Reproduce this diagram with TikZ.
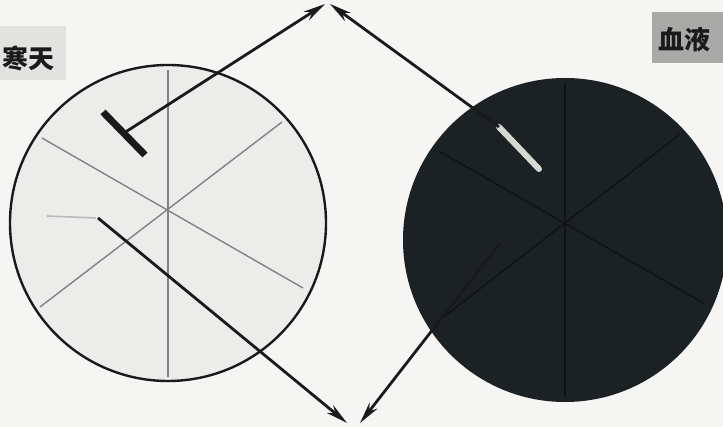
\documentclass[tikz,border=0pt]{standalone}
\usepackage{fontspec}
\newfontfamily\cjk{Noto Sans CJK SC}
\usetikzlibrary{arrows.meta}
\definecolor{bgc}{HTML}{F5F5F3}
\definecolor{agarfill}{HTML}{ECECEB}
\definecolor{bloodfill}{HTML}{1C2224}
\definecolor{bloodline}{HTML}{101416}
\definecolor{boxone}{HTML}{E2E2E0}
\definecolor{boxtwo}{HTML}{A9A9A7}
\definecolor{gridgray}{HTML}{828282}
\definecolor{barwhite}{HTML}{D4DAD2}
\definecolor{ink}{HTML}{1A1A1A}
\tikzset{
  lbl/.style={font=\cjk\bfseries\fontsize{26}{26}\selectfont, text=ink, inner sep=0pt},
  gridln/.style={draw=gridgray, line width=1.4pt},
  darkgrid/.style={draw=bloodline, line width=1.5pt},
  arr/.style={draw=ink, line width=2.8pt, -{Stealth[length=22pt,width=10pt,inset=7pt]}},
  tbar/.style={draw=ink, line width=7pt},
  wbar/.style={draw=barwhite, line width=6pt, line cap=round},
}
\begin{document}
\begin{tikzpicture}[x=1pt,y=-1pt]
\fill[bgc] (0,0) rectangle (723,427);
\useasboundingbox (0,0) rectangle (723,427);
% labels
\fill[boxone] (0,26) rectangle (66,80);
\node[lbl] (agar) at (28,58) {寒天};
\fill[boxtwo] (652,12) rectangle (723,63);
\node[lbl] (blood) at (684,40) {血液};
% left circle (agar)
\node[circle, minimum size=316pt, inner sep=0pt, draw=ink, line width=2.4pt, fill=agarfill] (L) at (168,223) {};
\coordinate (lv1) at (168,70); \coordinate (lv2) at (168,377);
\coordinate (la1) at (42,138); \coordinate (la2) at (303,288);
\coordinate (lb1) at (40,307); \coordinate (lb2) at (282,122);
\coordinate (ls1) at (47,216); \coordinate (ls2) at (96,218);
\draw[gridln] (lv1) -- (lv2);
\draw[gridln] (la1) -- (la2);
\draw[gridln] (lb1) -- (lb2);
\draw[draw=gridgray!55, line width=1.6pt] (ls1) -- (ls2);
% right circle (blood)
\node[circle, minimum size=324pt, inner sep=0pt, fill=bloodfill] (R) at (565,240) {};
\coordinate (rv1) at (565,82); \coordinate (rv2) at (565,398);
\coordinate (ra1) at (439,151); \coordinate (ra2) at (705,304);
\coordinate (rb1) at (437,322); \coordinate (rb2) at (679,135);
\draw[darkgrid] (rv1) -- (rv2);
\draw[darkgrid] (ra1) -- (ra2);
\draw[darkgrid] (rb1) -- (rb2);
% markers
\coordinate (tb1) at (103,112); \coordinate (tb2) at (145,155);
\draw[tbar] (tb1) -- (tb2);
\coordinate (wb1) at (499,127); \coordinate (wb2) at (539,169);
\draw[wbar] (wb1) -- (wb2);
% arrows
\coordinate (tmid) at (124,133);
\coordinate (apexL) at (325,4);
\coordinate (apexR) at (330,4);
\coordinate (lstart) at (98,218);
\coordinate (rstart) at (500,243);
\coordinate (botL) at (347,423);
\coordinate (botR) at (360,423);
\draw[arr] (tmid) -- (apexL);
\draw[arr] (wb1) -- (apexR);
\draw[arr] (lstart) -- (botL);
\draw[arr] (rstart) -- (botR);
\end{tikzpicture}
\end{document}
